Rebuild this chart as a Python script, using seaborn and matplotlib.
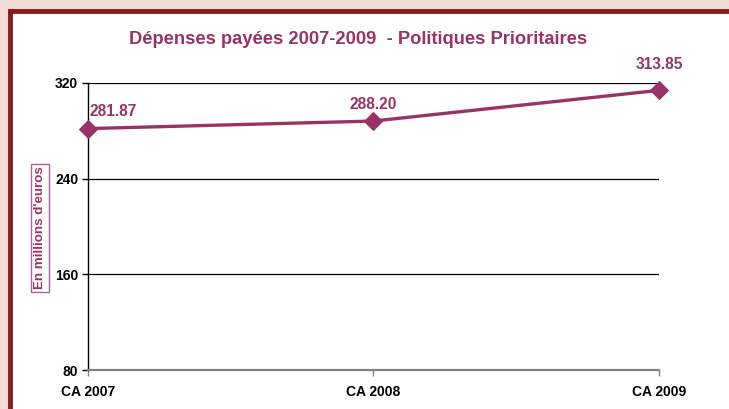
import matplotlib
matplotlib.use("Agg")
import matplotlib.pyplot as plt
import seaborn as sns
import pandas as pd
from matplotlib.patches import Rectangle

categories = ["CA 2007", "CA 2008", "CA 2009"]
values = [281.87, 288.20, 313.85]
value_labels = ["281.87", "288.20", "313.85"]
yticks = [80, 160, 240, 320]
title = "Dépenses payées 2007-2009  - Politiques Prioritaires"
ylabel = "En millions d'euros"

sns.set_theme(style="white")
plt.rcParams['font.family'] = ['Liberation Sans', 'DejaVu Sans']

PURPLE = "#993366"
W, H = 729, 409
fig = plt.figure(figsize=(W/100, H/100), dpi=100)
fig.patch.set_facecolor("#f1ddd6")
# frame
fig.patches.append(Rectangle((10/W, -0.1), 1.2, (H-11.5)/H + 0.1, transform=fig.transFigure,
                             facecolor="white", edgecolor="#8b1a1e", linewidth=3.5, zorder=-5))

ax = fig.add_axes([88/W, 1-370/H, (659-88)/W, (370-83)/H])
ax.set_zorder(2)
ax.set_facecolor("none")
df = pd.DataFrame({"cat": categories, "val": values})
sns.lineplot(data=df, x="cat", y="val", ax=ax, color=PURPLE, linewidth=2.4,
             marker="D", markersize=9.5, markeredgecolor=PURPLE, clip_on=False, zorder=5)

ax.set_xlim(0, 2)
ax.set_ylim(80, 320)
ax.set_yticks(yticks)
ax.set_yticklabels([str(t) for t in yticks], fontweight="bold", fontsize=10, color="black")
ax.set_xticks(range(len(categories)))
ax.set_xticklabels(categories, fontweight="bold", fontsize=10, color="black")
for g in yticks[1:]:
    ax.axhline(g, color="black", linewidth=0.9, zorder=1)
for s in ["top", "right"]:
    ax.spines[s].set_visible(False)
ax.spines["left"].set_color("black")
ax.spines["left"].set_linewidth(1.0)
ax.spines["bottom"].set_color("#808080")
ax.spines["bottom"].set_linewidth(1.6)
ax.tick_params(axis="y", which="both", left=True, length=4, width=1, color="black", pad=3)
ax.tick_params(axis="x", which="both", bottom=True, length=4, width=1, color="#808080", pad=7)
ax.set_xlabel("")
ax.set_ylabel("")

offsets = [(1, 12), (0, 12), (0, 18.5)]
has = ["left", "center", "center"]
for i, (v, lab) in enumerate(zip(values, value_labels)):
    ax.annotate(lab, (i, v), xytext=offsets[i], textcoords="offset points",
                ha=has[i], va="center", color=PURPLE, fontweight="bold", fontsize=11.2)

fig.text(358/W, 1-40/H, title, ha="center", va="center", color=PURPLE,
         fontweight="bold", fontsize=13.2)
fig.text(40/W, 1-228/H, ylabel, rotation=90, ha="center", va="center", color=PURPLE,
         fontweight="bold", fontsize=9.6,
         bbox=dict(boxstyle="square,pad=0.2", facecolor="white", edgecolor="#b06090", linewidth=1))

fig.savefig("out.png", dpi=100)
